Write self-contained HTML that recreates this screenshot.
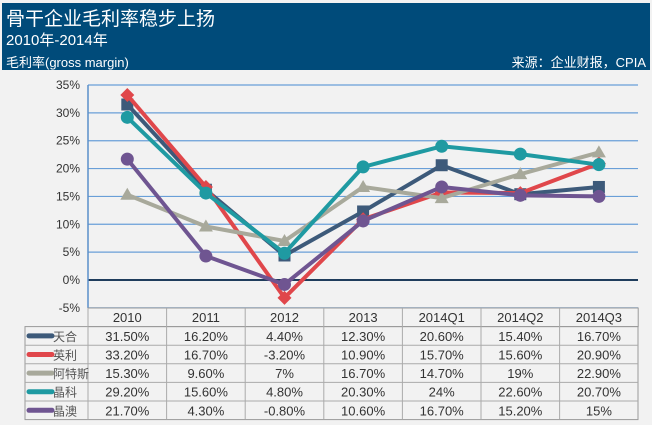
<!DOCTYPE html>
<html><head><meta charset="utf-8"><style>
body{margin:0;width:652px;height:425px;background:#f2f2f2;font-family:"Liberation Sans","Noto Sans CJK SC",sans-serif;overflow:hidden}
#hdr{position:absolute;left:2px;top:3px;width:648px;height:67px;background:#004b7a;color:#fff}
#hdr div{position:absolute;white-space:nowrap}
</style></head><body>
<div id="hdr">
<div style="left:4px;top:1px;font-size:19px">骨干企业毛利率稳步上扬</div>
<div style="left:4px;top:26px;font-size:15px">2010年-2014年</div>
<div style="left:4px;top:49px;font-size:13px">毛利率(gross margin)</div>
<div style="right:4px;top:49px;font-size:13px">来源：企业财报，CPIA</div>
</div>
<svg id="c" width="652" height="425" style="position:absolute;left:0;top:0"></svg>
<script>
const categories=["2010","2011","2012","2013","2014Q1","2014Q2","2014Q3"];
const seriesNames=["天合","英利","阿特斯","晶科","晶澳"];
const tianhe=[31.5,16.2,4.4,12.3,20.6,15.4,16.7];
const yingli=[33.2,16.7,-3.2,10.9,15.7,15.6,20.9];
const atesi=[15.3,9.6,7,16.7,14.7,19,22.9];
const jingke=[29.2,15.6,4.8,20.3,24,22.6,20.7];
const jingao=[21.7,4.3,-0.8,10.6,16.7,15.2,15];
const labels=[
["31.50%","16.20%","4.40%","12.30%","20.60%","15.40%","16.70%"],
["33.20%","16.70%","-3.20%","10.90%","15.70%","15.60%","20.90%"],
["15.30%","9.60%","7%","16.70%","14.70%","19%","22.90%"],
["29.20%","15.60%","4.80%","20.30%","24%","22.60%","20.70%"],
["21.70%","4.30%","-0.80%","10.60%","16.70%","15.20%","15%"]];
const yTicks=[35,30,25,20,15,10,5,0,-5];
const allSeries=[tianhe,yingli,atesi,jingke,jingao];
const colors=["#3d5a7a","#e0474b","#a8a99b","#1f9aa2","#6f5591"];
const markers=["square","diamond","triangle","circle","circle"];
const svg=document.getElementById('c');const NS="http://www.w3.org/2000/svg";
const x0=88,cw=78.6;
const X=i=>x0+cw*(i+0.5);
const Y=v=>280-v*(195/35);
function mk(t,a,p){const e=document.createElementNS(NS,t);for(const k in a)e.setAttribute(k,a[k]);(p||svg).appendChild(e);return e;}
yTicks.forEach(v=>{
 const l=mk('line',{x1:x0,x2:638,y1:Y(v),y2:Y(v),stroke:v===0?'#1f3d5c':'#6a9fd8','stroke-width':v===0?2:1.2});
 
 
 const t=mk('text',{x:80,y:Y(v)+4,'text-anchor':'end','font-size':12,fill:'#333'});t.textContent=v+'%';
 
 
});
mk('line',{x1:x0,x2:x0,y1:85,y2:308,stroke:'#5b8fc9','stroke-width':1.5});
allSeries.forEach((s,k)=>{
 const g=mk('g',{});
 
 
 mk('polyline',{points:s.map((v,i)=>X(i)+','+Y(v)).join(' '),fill:'none',stroke:colors[k],'stroke-width':4,'stroke-linejoin':'round'},g);
 s.forEach((v,i)=>{
  const x=X(i),y=Y(v);let m;
  if(markers[k]==='square')m=mk('rect',{x:x-6,y:y-6,width:12,height:12,fill:colors[k]},g);
  else if(markers[k]==='diamond')m=mk('polygon',{points:`${x},${y-7} ${x+7},${y} ${x},${y+7} ${x-7},${y}`,fill:colors[k]},g);
  else if(markers[k]==='triangle')m=mk('polygon',{points:`${x},${y-7} ${x+7},${y+5} ${x-7},${y+5}`,fill:colors[k]},g);
  else m=mk('circle',{cx:x,cy:y,r:6.5,fill:colors[k]},g);
  
  
 });
});
const ty=308,rh=18.6;
const tb=mk('g',{});


mk('rect',{x:x0,y:ty,width:cw*7,height:rh,fill:'none',stroke:'#999'},tb);
mk('rect',{x:25,y:ty+rh,width:638-25,height:rh*5,fill:'none',stroke:'#999'},tb);
for(let r=1;r<5;r++)mk('line',{x1:25,x2:638,y1:ty+rh*(r+1),y2:ty+rh*(r+1),stroke:'#aaa'},tb);
for(let c=0;c<7;c++)mk('line',{x1:x0+cw*c,x2:x0+cw*c,y1:ty,y2:ty+rh*6,stroke:'#aaa'},tb);
categories.forEach((c,i)=>{const t=mk('text',{x:X(i),y:ty+14,'text-anchor':'middle','font-size':13,fill:'#333'},tb);t.textContent=c;
 
 });
seriesNames.forEach((n,k)=>{
 const yy=ty+rh*(k+1)+rh/2;
 mk('line',{x1:29,x2:52,y1:yy,y2:yy,stroke:colors[k],'stroke-width':5,'stroke-linecap':'round'},tb);
 const t=mk('text',{x:53,y:yy+5,'font-size':12,fill:'#555'},tb);t.textContent=n;
 
 
 labels[k].forEach((l,i)=>{const v=mk('text',{x:X(i),y:yy+5,'text-anchor':'middle','font-size':13,fill:'#333'},tb);v.textContent=l;
  
  });
});
</script>
</body></html>
